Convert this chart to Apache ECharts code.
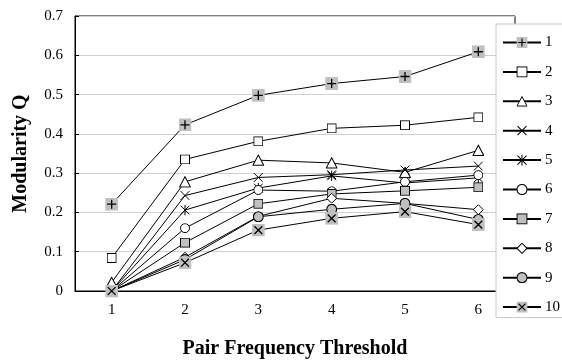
<!DOCTYPE html>
<html>
<head>
<meta charset="utf-8">
<script src="https://cdn.jsdelivr.net/npm/echarts@6/dist/echarts.min.js"></script>
<style>
html,body{margin:0;padding:0;background:#fff;}
#chart{width:562px;height:364px;}
</style>
</head>
<body>
<div id="chart"></div>
<script>
// ---- data ----
const categories = ['1', '2', '3', '4', '5', '6'];
const seriesNames = ['1', '2', '3', '4', '5', '6', '7', '8', '9', '10'];
const q1  = [0.221, 0.423, 0.498, 0.528, 0.546, 0.609];
const q2  = [0.084, 0.335, 0.381, 0.414, 0.422, 0.442];
const q3  = [0.022, 0.278, 0.333, 0.326, 0.302, 0.358];
const q4  = [0.000, 0.243, 0.289, 0.296, 0.308, 0.318];
const q5  = [0.000, 0.206, 0.262, 0.293, 0.275, 0.288];
const q6  = [0.000, 0.160, 0.257, 0.254, 0.278, 0.295];
const q7  = [0.000, 0.123, 0.222, 0.247, 0.255, 0.264];
const q8  = [0.000, 0.086, 0.190, 0.236, 0.223, 0.207];
const q9  = [0.000, 0.080, 0.189, 0.208, 0.223, 0.182];
const q10 = [0.000, 0.072, 0.155, 0.185, 0.202, 0.169];
const allValues = [q1, q2, q3, q4, q5, q6, q7, q8, q9, q10];
const yMin = 0, yMax = 0.7, yStep = 0.1;

// ---- marker drawings (SVG) ----
const G = '#c0c0c0';
function svgImg(body) {
  const s = '<svg xmlns="http://www.w3.org/2000/svg" width="40" height="40" viewBox="0 0 20 20">' + body + '</svg>';
  return 'image://data:image/svg+xml;charset=utf-8,' + encodeURIComponent(s);
}
const markers = [
  { sym: svgImg('<rect width="20" height="20" fill="' + G + '"/><path d="M10 3V17M3 10H17" stroke="#000" stroke-width="2" fill="none"/>'), size: 13 },
  { sym: svgImg('<rect x="1" y="1" width="18" height="18" fill="#fff" stroke="#000" stroke-width="2"/>'), size: 10 },
  { sym: svgImg('<path d="M10 1.5L19 18.5L1 18.5Z" fill="#fff" stroke="#000" stroke-width="1.7"/>'), size: 12 },
  { sym: svgImg('<path d="M2 2L18 18M18 2L2 18" stroke="#000" stroke-width="1.8" fill="none"/>'), size: 11 },
  { sym: svgImg('<path d="M2 2L18 18M18 2L2 18M10 0V20" stroke="#000" stroke-width="1.8" fill="none"/>'), size: 11 },
  { sym: svgImg('<circle cx="10" cy="10" r="9" fill="#fff" stroke="#000" stroke-width="2"/>'), size: 10 },
  { sym: svgImg('<rect x="1" y="1" width="18" height="18" fill="' + G + '" stroke="#000" stroke-width="2"/>'), size: 10 },
  { sym: svgImg('<path d="M10 1L19 10L10 19L1 10Z" fill="#fff" stroke="#000" stroke-width="1.8"/>'), size: 11 },
  { sym: svgImg('<circle cx="10" cy="10" r="9" fill="' + G + '" stroke="#000" stroke-width="2"/>'), size: 11 },
  { sym: svgImg('<rect width="20" height="20" fill="' + G + '"/><path d="M4 4L16 16M16 4L4 16" stroke="#000" stroke-width="2" fill="none"/>'), size: 13 }
];

const FONT = '"Liberation Serif", "Times New Roman", serif';

const chart = echarts.init(document.getElementById('chart'));
const series = seriesNames.map((name, i) => ({
  name: name,
  type: 'line',
  data: allValues[i],
  symbol: markers[i].sym,
  symbolSize: markers[i].size,
  showAllSymbol: true,
  lineStyle: { color: '#000', width: 1 },
  itemStyle: { color: '#000' },
  emphasis: { disabled: true },
  z: 3
}));

chart.setOption({
  animation: false,
  backgroundColor: '#fff',
  grid: {
    left: 75, right: 47, top: 16, bottom: 73,
    show: true, borderColor: '#000', borderWidth: 1, backgroundColor: 'transparent'
  },
  xAxis: {
    type: 'category',
    data: categories,
    boundaryGap: true,
    axisLine: { lineStyle: { color: '#000', width: 1 } },
    axisTick: { inside: true, length: 5, lineStyle: { color: '#000' } },
    axisLabel: { color: '#000', fontFamily: FONT, fontSize: 15, margin: 12 },
    name: 'Pair Frequency Threshold',
    nameLocation: 'middle',
    nameGap: 48,
    nameTextStyle: { color: '#000', fontFamily: FONT, fontSize: 20, fontWeight: 'bold' },
    splitLine: { show: false }
  },
  yAxis: {
    type: 'value',
    min: yMin, max: yMax, interval: yStep,
    axisLine: { show: true, lineStyle: { color: '#000', width: 1 } },
    axisTick: { show: true, inside: true, length: 4, lineStyle: { color: '#000' } },
    axisLabel: {
      color: '#000', fontFamily: FONT, fontSize: 15, margin: 12,
      formatter: v => (v === 0 ? '0' : v.toFixed(1))
    },
    splitLine: { show: true, lineStyle: { color: '#d0d0d0', width: 1 } },
    name: 'Modularity Q',
    nameLocation: 'middle',
    nameGap: 44,
    nameRotate: 90,
    nameTextStyle: { color: '#000', fontFamily: FONT, fontSize: 20, fontWeight: 'bold' }
  },
  legend: {
    orient: 'vertical',
    left: 496, top: 24,
    padding: [11, 3, 3, 6],
    itemWidth: 38, itemHeight: 14, itemGap: 14.4,
    backgroundColor: '#fff',
    borderColor: '#c8c8c8', borderWidth: 1,
    textStyle: { color: '#000', fontFamily: FONT, fontSize: 15, padding: [0, 0, 0, -1] },
    data: seriesNames,
    selectedMode: false,
    z: 10
  },
  series: series
});
</script>
</body>
</html>
